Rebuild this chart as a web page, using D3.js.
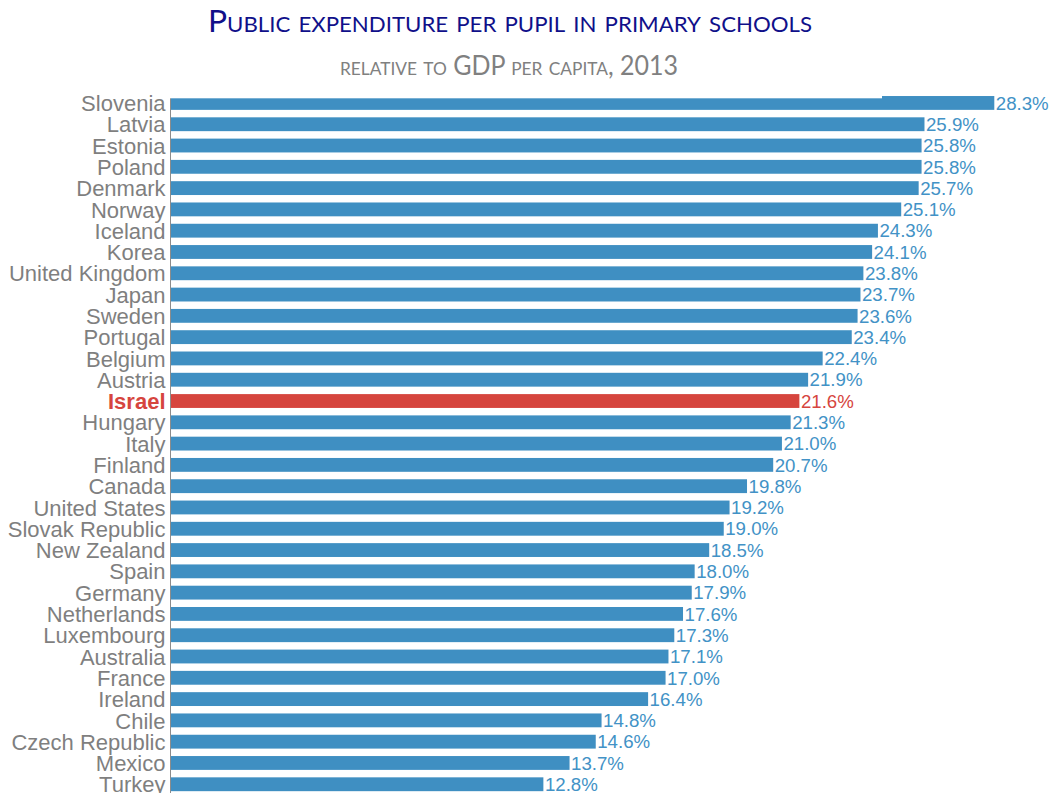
<!DOCTYPE html>
<html>
<head>
<meta charset="utf-8">
<script src="https://cdn.jsdelivr.net/npm/d3@7"></script>
<style>
  html, body { margin: 0; padding: 0; background: #fff; }
  svg { display: block; }
</style>
</head>
<body>
<svg id="chart" width="1052" height="793"></svg>
<script>
// Primary-school spending per pupil, % of GDP per capita, 2013
const countries = [
  "Slovenia", "Latvia", "Estonia", "Poland", "Denmark", "Norway", "Iceland",
  "Korea", "United Kingdom", "Japan", "Sweden", "Portugal", "Belgium", "Austria",
  "Israel", "Hungary", "Italy", "Finland", "Canada", "United States",
  "Slovak Republic", "New Zealand", "Spain", "Germany", "Netherlands",
  "Luxembourg", "Australia", "France", "Ireland", "Chile", "Czech Republic",
  "Mexico", "Turkey"
];
const values = [
  28.3, 25.9, 25.8, 25.8, 25.7, 25.1, 24.3,
  24.1, 23.8, 23.7, 23.6, 23.4, 22.4, 21.9,
  21.6, 21.3, 21.0, 20.7, 19.8, 19.2,
  19.0, 18.5, 18.0, 17.9, 17.6,
  17.3, 17.1, 17.0, 16.4, 14.8, 14.6,
  13.7, 12.8
];
const highlight = "Israel";
const titleText = "Public expenditure per pupil in primary schools";
const subtitleText = "relative to GDP per capita, 2013";

const data = countries.map((c, i) => ({ country: c, value: values[i] }));

const svg = d3.select("#chart");
const barBlue = "#3f8fc2";
const textBlue = "#4292c6";
const red = "#d6453e";

const x = d3.scaleLinear()
  .domain([0, d3.max(values)])
  .range([171, 994.3]);

const y = d3.scaleBand()
  .domain(countries)
  .range([92.3, 794.9])
  .paddingInner(0.35)
  .paddingOuter(0.175);

// bars
svg.append("g")
  .selectAll("rect")
  .data(data)
  .join("rect")
  .attr("x", x(0))
  .attr("y", d => y(d.country))
  .attr("width", d => x(d.value) - x(0))
  .attr("height", y.bandwidth())
  .attr("fill", d => d.country === highlight ? red : barBlue);

// header block sits over the top of the plot area
svg.append("rect")
  .attr("x", 0).attr("y", 0)
  .attr("width", 882).attr("height", 98.3)
  .attr("fill", "#fff");

// value labels at the end of each bar
svg.append("g")
  .selectAll("text")
  .data(data)
  .join("text")
  .attr("x", d => x(d.value) + 1.5)
  .attr("y", d => y(d.country) + y.bandwidth() / 2)
  .attr("dy", "0.36em")
  .attr("font-family", "'Liberation Sans', Arial, sans-serif")
  .attr("font-size", "18.67px")
  .attr("fill", d => d.country === highlight ? red : textBlue)
  .text(d => d.value.toFixed(1) + "%");

// category axis on the left
const yAxis = d3.axisLeft(y).tickSize(0).tickPadding(5);
const ag = svg.append("g")
  .attr("transform", `translate(${x(0) - 0.5},0)`)
  .call(yAxis);
ag.select(".domain").remove();
ag.append("line")
  .attr("x1", 0).attr("x2", 0)
  .attr("y1", 98.3).attr("y2", y.range()[1])
  .attr("stroke", "#8c8c8c")
  .attr("stroke-width", 1);
ag.selectAll(".tick text")
  .attr("font-family", "'Liberation Sans', Arial, sans-serif")
  .attr("font-size", "22px")
  .attr("dy", "0.37em")
  .attr("fill", d => d === highlight ? red : "#7f7f7f")
  .attr("font-weight", d => d === highlight ? "bold" : "normal");

// titles
svg.append("text")
  .attr("x", 510)
  .attr("y", 31.7)
  .attr("text-anchor", "middle")
  .attr("font-family", "Lato, 'Open Sans', sans-serif")
  .attr("font-size", "30px")
  .attr("font-variant", "small-caps")
  .attr("textLength", 604)
  .attr("lengthAdjust", "spacingAndGlyphs")
  .attr("fill", "#10108a")
  .text(titleText);

svg.append("text")
  .attr("x", 509)
  .attr("y", 75)
  .attr("text-anchor", "middle")
  .attr("font-family", "Lato, 'Open Sans', sans-serif")
  .attr("font-size", "26px")
  .attr("font-variant", "small-caps")
  .attr("textLength", 338)
  .attr("lengthAdjust", "spacingAndGlyphs")
  .attr("fill", "#808080")
  .text(subtitleText);
</script>
</body>
</html>
